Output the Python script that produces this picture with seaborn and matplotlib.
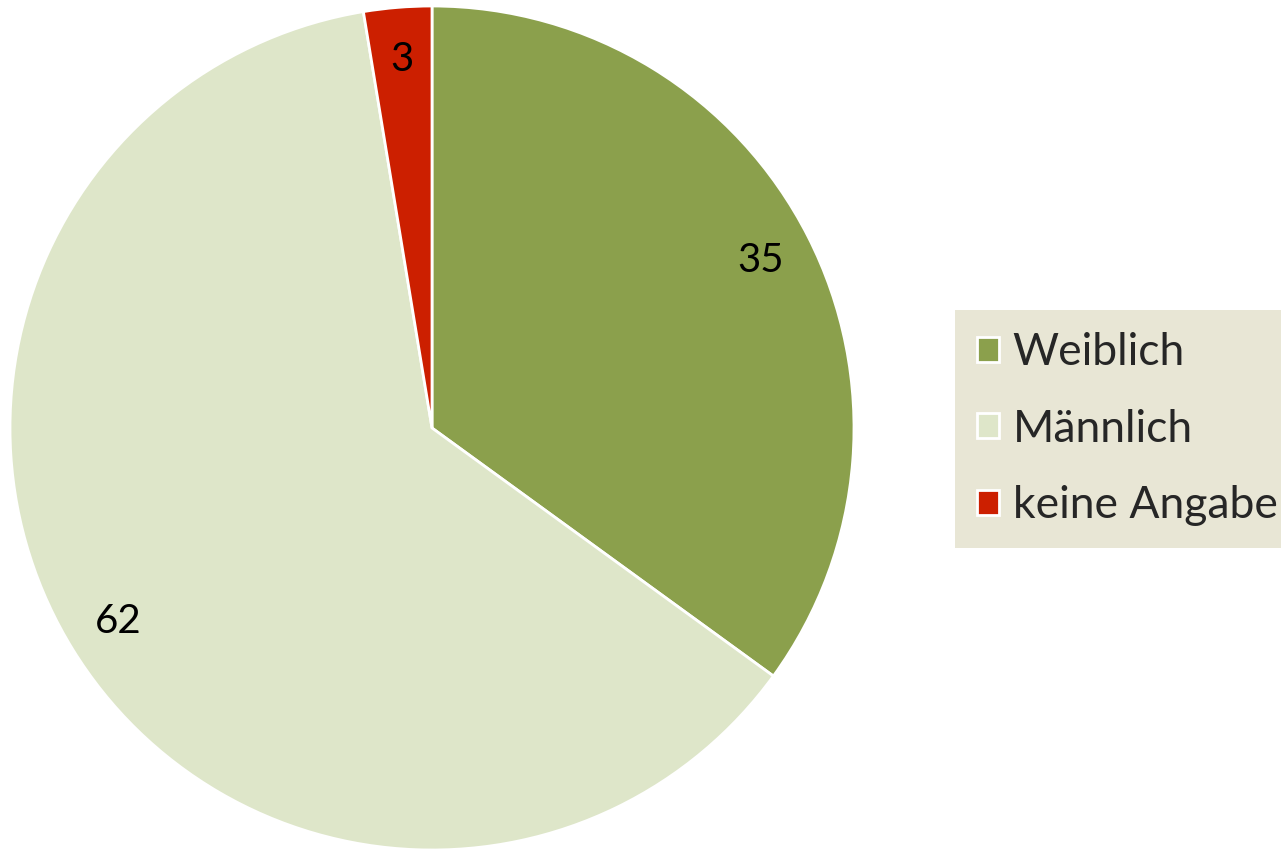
import matplotlib
matplotlib.use("Agg")
import matplotlib.pyplot as plt
import seaborn as sns

categories = ["Weiblich", "Männlich", "keine Angabe"]
values = [35.0, 62.4, 2.6]
colors = ["#8BA04C", "#DEE6C9", "#CC1F00"]

sns.set_theme(style="white")
plt.rcParams["font.family"] = ["Lato", "DejaVu Sans"]

fig = plt.figure(figsize=(12.81, 8.5), dpi=100)
ax = fig.add_axes([10 / 1281, 0.0, 844 / 1281, 844 / 850])

wedges, texts, autotexts = ax.pie(
    values,
    colors=colors,
    startangle=90,
    counterclock=False,
    radius=1,
    autopct=lambda p: f"{p * sum(values) / 100:.0f}",
    pctdistance=0.875,
    wedgeprops=dict(edgecolor="white", linewidth=2),
    textprops=dict(fontsize=29, color="black"),
)
ax.set_xlim(-1, 1)
ax.set_ylim(-1, 1)
ax.set_aspect("equal")
ax.axis("off")

leg = fig.legend(
    wedges, categories,
    loc="center left",
    bbox_to_anchor=(955 / 1281, 1 - 429 / 850),
    fontsize=32,
    frameon=True,
    fancybox=False,
    handlelength=0.5,
    handleheight=0.5,
    handletextpad=0.3,
    labelspacing=0.8,
    borderpad=0.5,
    borderaxespad=0,
)
leg.get_frame().set_facecolor("#E3E0CB")
leg.get_frame().set_edgecolor("#E3E0CB")
leg.get_frame().set_linewidth(0)

fig.savefig("out.png", dpi=100)
